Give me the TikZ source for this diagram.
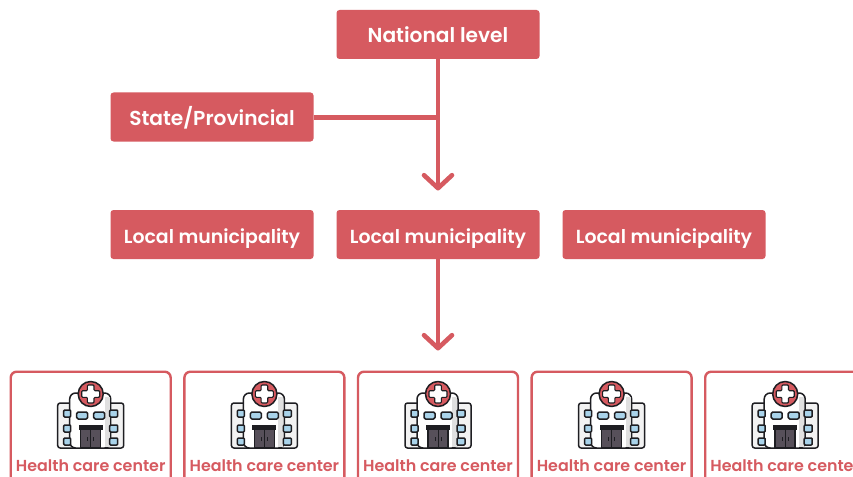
\documentclass[tikz,border=0pt]{standalone}
\usepackage{fontspec}
\setmainfont{Poppins}
\newfontfamily\labelfont{Poppins SemiBold}
\usetikzlibrary{arrows.meta}
\definecolor{brand}{HTML}{D65A60}
\definecolor{ink}{HTML}{1E1E22}
\definecolor{glass}{HTML}{A9D3EA}
\definecolor{wall}{HTML}{F2F2F2}
\definecolor{doorc}{HTML}{57505A}
\tikzset{
  x=1pt,y=-1pt,
  levelbox/.style={fill=brand,rounded corners=3pt,minimum width=203pt,minimum height=49pt,inner sep=0pt,text=white,text height=20pt,text depth=3pt,font=\labelfont\fontsize{#1}{#1}\selectfont},
  levelbox/.default=18.9pt,
  cardbox/.style={draw=brand,line width=2.4pt,rounded corners=6pt,fill=white,minimum width=160pt,minimum height=130pt,anchor=north,inner sep=0pt},
  cardtext/.style={text=brand,font=\labelfont\fontsize{15.9pt}{15.9pt}\selectfont,inner sep=0pt},
  flow/.style={draw=brand,line width=4.6pt},
  flowtip/.style={flow,-{Straight Barb[length=13pt,width=28pt,round,line width=4.6pt]}},
  iconline/.style={draw=ink,line width=1.5pt,line join=round},
  pics/hospital/.style={code={
    % wings
    \draw[iconline,fill=wall,rounded corners=2.5pt] (-33,9) rectangle (33,54);
    % tower
    \draw[iconline,fill=white,rounded corners=6pt] (-21,54) -- (-21,-1) -- (20,-1) -- (20,54) -- cycle;
    \fill[black!12] (14,3) rectangle (19,53);
    % side windows
    \foreach \yy in {16,31,44}{
      \draw[iconline,fill=glass,rounded corners=1pt] (-27,\yy) rectangle (-20,\yy+7);
      \draw[iconline,fill=glass,rounded corners=1pt] (19,\yy) rectangle (27,\yy+7);
    }
    % front windows
    \draw[iconline,fill=glass,rounded corners=1.5pt] (-14,18) rectangle (-3,25);
    \draw[iconline,fill=glass,rounded corners=1.5pt] (3,18) rectangle (14,25);
    % door
    \draw[iconline,fill=doorc] (-10,35) rectangle (10,54);
    \draw[iconline,line width=.8pt] (0,35) -- (0,54);
    \draw[draw=ink,line width=1pt] (-3,43) -- (-3,47) (3,43) -- (3,47);
    \fill[ink] (-12,31) rectangle (12,35.5);
    % sign
    \draw[iconline,fill=brand] (0,0) circle (12.5);
    \draw[draw=ink,line width=1.1pt,fill=white,rounded corners=1pt]
      (-3.3,-9) -- (3.3,-9) -- (3.3,-3.3) -- (9,-3.3) -- (9,3.3) -- (3.3,3.3) -- (3.3,9)
      -- (-3.3,9) -- (-3.3,3.3) -- (-9,3.3) -- (-9,-3.3) -- (-3.3,-3.3) -- cycle;
  }}
}
\begin{document}
\begin{tikzpicture}
\useasboundingbox (0,0) rectangle (853,476);
\clip (0,0) rectangle (853,476);
\fill[white] (0,0) rectangle (853,476);

\coordinate (junction) at (438,117.5);
\coordinate (tipa) at (438,190.5);
\coordinate (tipb) at (438,350.5);

\node[levelbox=20.2pt] (national) at (438,34.5) {National level};
\node[levelbox=20.2pt] (state) at (212,117) {State/Provincial};
\node[levelbox] (locala) at (212,234.5) {Local municipality};
\node[levelbox] (localb) at (438,234.5) {Local municipality};
\node[levelbox] (localc) at (664,234.5) {Local municipality};

\draw[flow] (state.east |- junction) -- (junction);
\draw[flowtip] (national.south) -- (tipa);
\draw[flowtip] (localb.south) -- (tipb);

\foreach \n/\cx in {1/90.7,2/264.4,3/438,4/611.6,5/785.2}{
  \node[cardbox] (card\n) at (\cx,370.5) {};
  \pic at (\cx,394) {hospital};
  \node[cardtext] (label\n) at (\cx,465.5) {Health care center};
}
\end{tikzpicture}
\end{document}
